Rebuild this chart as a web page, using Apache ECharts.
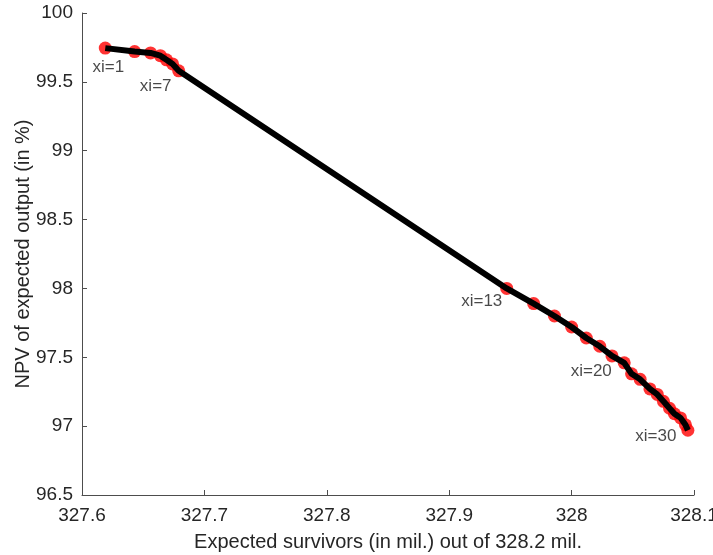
<!DOCTYPE html>
<html>
<head>
<meta charset="utf-8">
<script src="https://cdn.jsdelivr.net/npm/echarts@6/dist/echarts.min.js"></script>
<style>html,body{margin:0;padding:0;background:#fff}#c{width:713px;height:555px}</style>
</head>
<body>
<div id="c"></div>
<script>
// xi index of each plotted point
const xiValues = [1,2,3,4,5,6,7,13,14,15,16,17,18,19,20,21,22,23,24,25,26,27,28,29,30];
// Expected survivors (in mil.)
const survivors = [327.619,327.643,327.656,327.664,327.669,327.674,327.679,
  327.947,327.969,327.986,328.000,328.012,328.023,328.033,328.043,328.049,328.056,
  328.064,328.070,328.075,328.080,328.084,328.089,328.093,328.095];
// NPV of expected output (in %)
const npv = [99.745,99.72,99.71,99.69,99.66,99.63,99.58,
  98.00,97.89,97.80,97.72,97.64,97.58,97.51,97.46,97.38,97.34,
  97.27,97.23,97.18,97.13,97.09,97.06,97.01,96.97];
const labelledXi = [1,7,13,20,30];
const xTicks = [327.6,327.7,327.8,327.9,328,328.1];
const yTicks = [96.5,97,97.5,98,98.5,99,99.5,100];

const labelOffsets = {1:[3,19],7:[-23,15],13:[-25,13],20:[-33,9],30:[-32,6]};
const textColor = '#262626';
const font = 'Liberation Sans, Arial, Helvetica, sans-serif';

const points = survivors.map((x,i)=>[x,npv[i]]);
const scatterData = points.map((p,i)=>{
  const xi = xiValues[i];
  const item = {value:p};
  if (labelledXi.includes(xi)) {
    item.label = {show:true, formatter:'xi='+xi, position:'inside', offset:labelOffsets[xi],
      color:'#1a1a1a', fontSize:17, fontFamily:font};
  }
  return item;
});

const chart = echarts.init(document.getElementById('c'));
chart.setOption({
  animation:false,
  grid:{left:82,right:19,top:13,bottom:60,containLabel:false,outerBoundsMode:'none'},
  xAxis:{
    type:'value', min:327.6, max:328.1, interval:0.1,
    name:'Expected survivors (in mil.) out of 328.2 mil.',
    nameLocation:'middle', nameGap:37, nameMoveOverlap:false,
    nameTextStyle:{color:textColor,fontSize:20,fontFamily:font},
    axisLine:{show:true,lineStyle:{color:'#4d4d4d',width:1}},
    axisTick:{show:true,inside:true,length:5,lineStyle:{color:'#4d4d4d'}},
    axisLabel:{color:textColor,fontSize:19,fontFamily:font,margin:11,
      formatter:v=>xTicks.includes(+v.toFixed(1))?String(+v.toFixed(1)):''},
    splitLine:{show:false}
  },
  yAxis:{
    type:'value', min:96.5, max:100, interval:0.5,
    name:'NPV of expected output (in %)',
    nameLocation:'middle', nameGap:49, nameMoveOverlap:false,
    nameTextStyle:{color:textColor,fontSize:20,fontFamily:font},
    axisLine:{show:true,lineStyle:{color:'#4d4d4d',width:1}},
    axisTick:{show:true,inside:true,length:5,lineStyle:{color:'#4d4d4d'}},
    axisLabel:{color:textColor,fontSize:19,fontFamily:font,margin:9,
      formatter:v=>yTicks.includes(+v.toFixed(1))?String(+v.toFixed(1)):''},
    splitLine:{show:false}
  },
  series:[
    {type:'scatter', data:scatterData, symbol:'circle', symbolSize:13,
     itemStyle:{color:'#ff0000'}, z:2},
    {type:'line', data:points, symbol:'none', lineStyle:{color:'#000',width:6}, z:3,
     silent:true}
  ]
});
</script>
</body>
</html>
